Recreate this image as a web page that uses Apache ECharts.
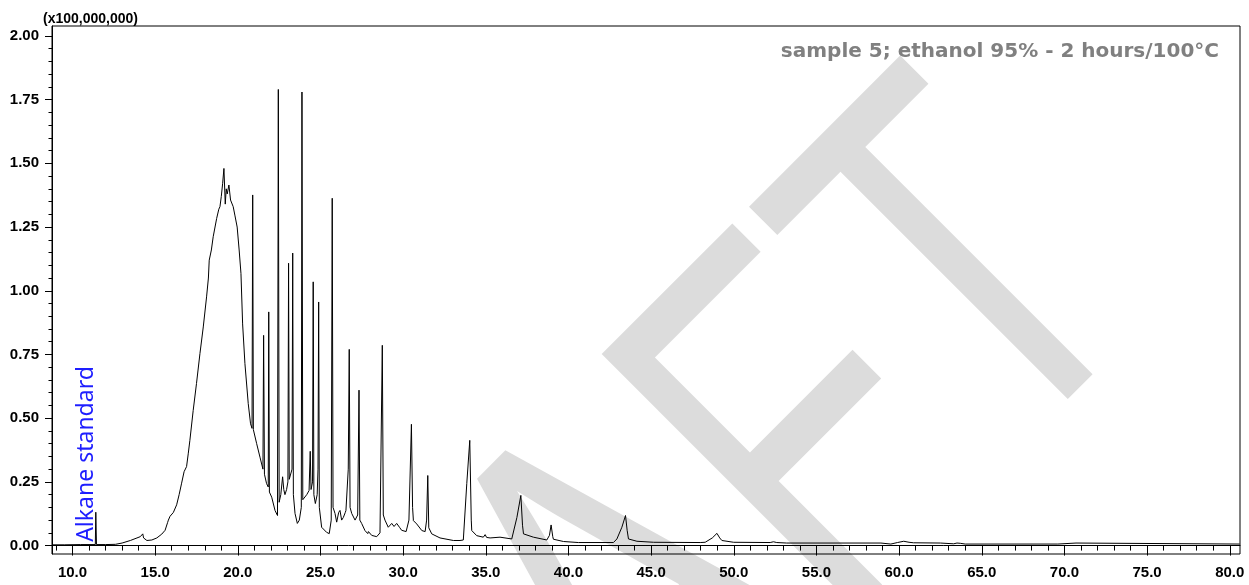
<!DOCTYPE html>
<html><head><meta charset="utf-8">
<script src="https://cdn.jsdelivr.net/npm/echarts@6/dist/echarts.min.js"></script>
<style>html,body{margin:0;padding:0;background:#fff}#c{width:1249px;height:585px}</style>
</head><body><div id="c"></div>
<script>
// Tick labels
const xMajorTicks = [10,15,20,25,30,35,40,45,50,55,60,65,70,75,80];
const yMajorTicks = [0,0.25,0.5,0.75,1.0,1.25,1.5,1.75,2.0];

// Chromatogram (retention time [min], intensity [x100,000,000])
const baselineStart = [[8.76,0.003],[9.5,0.003],[10.5,0.004],[11.38,0.004],[11.41,0.131],[11.45,0.004],[12.0,0.004],[12.6,0.005],[13.0,0.01],[13.5,0.02],[13.9,0.03],[14.1,0.035],[14.25,0.046],[14.3,0.03],[14.5,0.02],[14.8,0.022],[15.1,0.03],[15.4,0.045],[15.6,0.06],[15.75,0.09],[15.8,0.1],[15.9,0.115],[16.1,0.13],[16.3,0.16]];
const humpRegion = [[16.45,0.2],[16.6,0.245],[16.75,0.29],[16.9,0.31],[17.0,0.36],[17.1,0.413],[17.3,0.53],[17.5,0.636],[17.71,0.754],[17.91,0.858],[18.11,0.976],[18.22,1.05],[18.27,1.12],[18.4,1.16],[18.51,1.212],[18.72,1.284],[18.85,1.32],[18.92,1.33],[19.0,1.37],[19.08,1.42],[19.16,1.48],[19.24,1.34],[19.3,1.40],[19.36,1.38],[19.46,1.415],[19.56,1.356],[19.66,1.356],[19.72,1.33],[19.82,1.297],[19.96,1.25],[20.08,1.16],[20.19,1.068],[20.29,0.87],[20.43,0.714],[20.63,0.557],[20.77,0.478],[20.86,0.46],[20.9,1.376],[20.94,0.455],[21.14,0.4],[21.34,0.347],[21.52,0.3],[21.56,0.825],[21.61,0.28],[21.74,0.243],[21.84,0.23],[21.87,0.917],[21.91,0.21],[22.05,0.19],[22.25,0.138],[22.4,0.118]];
const peakRegion = [[22.45,1.79],[22.5,0.17],[22.6,0.2],[22.71,0.27],[22.78,0.22],[22.85,0.2],[22.95,0.22],[23.03,0.25],[23.07,1.108],[23.11,0.26],[23.2,0.255],[23.28,0.3],[23.32,1.148],[23.36,0.2],[23.46,0.126],[23.6,0.087],[23.72,0.1],[23.84,0.15],[23.88,1.78],[23.93,0.18],[24.0,0.177],[24.17,0.2],[24.31,0.216],[24.38,0.37],[24.43,0.22],[24.52,0.25],[24.56,1.035],[24.6,0.2],[24.69,0.165],[24.8,0.2],[24.85,0.3],[24.89,0.956],[24.93,0.15],[25.07,0.072],[25.37,0.052],[25.53,0.047],[25.65,0.1],[25.71,1.363],[25.76,0.15],[25.88,0.126],[25.98,0.092],[26.1,0.13],[26.18,0.138],[26.28,0.1],[26.38,0.11],[26.5,0.13],[26.54,0.138],[26.68,0.3],[26.74,0.77],[26.79,0.15],[26.89,0.126],[27.09,0.1],[27.25,0.12],[27.33,0.61],[27.38,0.1],[27.49,0.087],[27.69,0.059],[27.86,0.047],[27.9,0.055],[28.1,0.04],[28.4,0.035],[28.6,0.05],[28.74,0.786],[28.8,0.12],[28.9,0.1],[29.1,0.072],[29.31,0.087],[29.45,0.075],[29.61,0.087],[29.8,0.07],[29.91,0.06],[30.18,0.055],[30.35,0.1],[30.5,0.476],[30.57,0.15],[30.62,0.098],[30.7,0.1],[30.82,0.085],[31.13,0.059],[31.33,0.055],[31.42,0.1],[31.49,0.275],[31.55,0.07],[31.73,0.046],[32.23,0.03],[33.04,0.02],[33.44,0.02],[33.64,0.022],[33.85,0.244],[34.03,0.413],[34.12,0.1],[34.15,0.059],[34.45,0.039],[34.85,0.033],[34.96,0.043],[35.05,0.032],[35.26,0.03],[35.86,0.033],[36.57,0.026],[36.67,0.03],[36.88,0.11],[37.12,0.197],[37.22,0.08],[37.28,0.046],[37.88,0.033],[38.69,0.022],[38.85,0.04],[38.95,0.081],[39.05,0.035],[39.09,0.025],[39.7,0.016]];
const tailRegion = [[40.6,0.012],[42.72,0.012],[42.93,0.026],[43.23,0.072],[43.45,0.118],[43.55,0.06],[43.63,0.026],[44.14,0.017],[45.15,0.013],[47.97,0.012],[48.27,0.013],[48.7,0.03],[48.98,0.048],[49.15,0.03],[49.28,0.02],[49.99,0.013],[52.2,0.012],[52.4,0.015],[52.6,0.012],[53.2,0.01],[58.9,0.01],[59.0,0.006],[59.5,0.006],[59.9,0.012],[60.28,0.017],[60.6,0.013],[60.87,0.011],[62.5,0.01],[62.6,0.007],[63.3,0.007],[63.5,0.01],[63.7,0.009],[64.0,0.006],[69.6,0.006],[69.7,0.01],[70.7,0.01],[70.8,0.006],[80.6,0.006]];

const signal = [].concat(baselineStart, humpRegion, peakRegion, tailRegion);

const X_MIN = 8.76, X_MAX = 80.62, Y_MIN = -0.033, Y_MAX = 2.039;
const xMinorTicks = []; for (let t = 9; t <= 80; t++) xMinorTicks.push(t);
const yMinorTicks = []; for (let k = 0; k <= 40; k++) yMinorTicks.push(+(k*0.05).toFixed(2));

const labelFont = {fontFamily:'"Liberation Sans", Arial, sans-serif', fontWeight:'bold', fontSize:15, color:'#000'};

const chart = echarts.init(document.getElementById('c'), null, {renderer:'canvas'});
chart.setOption({
  animation:false,
  backgroundColor:'#fff',
  grid:{left:52, right:9, top:26, bottom:31, show:true, borderColor:'#000', borderWidth:1, backgroundColor:'transparent'},
  xAxis:[
    {type:'value', min:X_MIN, max:X_MAX, position:'bottom',
     axisLine:{show:true, lineStyle:{color:'#000', width:1}},
     axisTick:{show:true, length:10, customValues:xMajorTicks, lineStyle:{color:'#000'}},
     axisLabel:Object.assign({show:true, margin:11, customValues:xMajorTicks, formatter:v=>v.toFixed(1)}, labelFont),
     splitLine:{show:false}},
    {type:'value', min:X_MIN, max:X_MAX, position:'bottom',
     axisLine:{show:false},
     axisTick:{show:true, length:5, customValues:xMinorTicks, lineStyle:{color:'#000'}},
     axisLabel:{show:false}, splitLine:{show:false}}
  ],
  yAxis:[
    {type:'value', min:Y_MIN, max:Y_MAX, position:'left',
     axisLine:{show:true, lineStyle:{color:'#000', width:1}},
     axisTick:{show:true, length:7, customValues:yMajorTicks, lineStyle:{color:'#000'}},
     axisLabel:Object.assign({show:true, margin:13, customValues:yMajorTicks, formatter:v=>v.toFixed(2)}, labelFont),
     splitLine:{show:false}},
    {type:'value', min:Y_MIN, max:Y_MAX, position:'left',
     axisLine:{show:false},
     axisTick:{show:true, length:3.5, customValues:yMinorTicks, lineStyle:{color:'#000'}},
     axisLabel:{show:false}, splitLine:{show:false}}
  ],
  series:[{
    type:'line', xAxisIndex:0, yAxisIndex:0, data:signal, showSymbol:false, symbol:'none',
    lineStyle:{color:'#000', width:1}, z:5, silent:true
  }],
  graphic:[
    {type:'text', x:614, y:648, rotation:Math.PI/4, scaleX:1, scaleY:1.39, z:-10, silent:true,
     style:{text:'DRAFT', fill:'#dcdcdc', fontFamily:'"Liberation Sans", Arial, sans-serif', fontSize:378, align:'center', verticalAlign:'middle'}},
    {type:'text', x:43, y:19, z:50, silent:true,
     style:{text:'(x100,000,000)', fill:'#000', fontFamily:'"Liberation Sans", Arial, sans-serif', fontWeight:'bold', fontSize:14, align:'left', verticalAlign:'middle'}},
    {type:'text', x:1219, y:52, z:50, silent:true,
     style:{text:'sample 5; ethanol 95% - 2 hours/100°C', fill:'#808080', fontFamily:'"DejaVu Sans", Verdana, sans-serif', fontWeight:'bold', fontSize:20, align:'right', verticalAlign:'middle'}},
    {type:'text', x:86, y:454, rotation:Math.PI/2, z:50, silent:true,
     style:{text:'Alkane standard', fill:'#1e1eff', fontFamily:'"Noto Sans", "Open Sans", sans-serif', fontSize:23, align:'center', verticalAlign:'middle'}}
  ]
});
</script></body></html>
